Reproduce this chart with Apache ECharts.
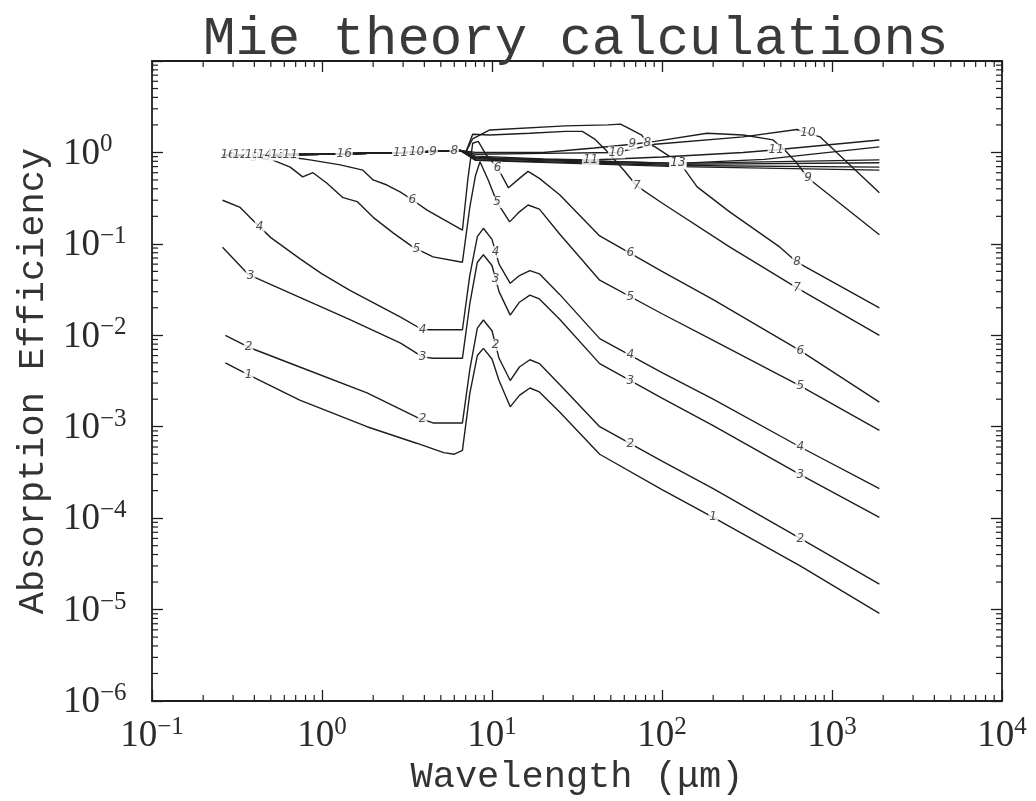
<!DOCTYPE html>
<html><head><meta charset="utf-8">
<script src="https://cdn.jsdelivr.net/npm/echarts@6/dist/echarts.min.js"></script>
<style>html,body{margin:0;padding:0;background:#fff}#c{width:1036px;height:801px}</style>
</head><body><div id="c"></div>
<script>
// [wavelength (um), absorption efficiency]
const curve1 = [[0.27,5.0e-3],[0.37,3.7e-3],[0.74,1.95e-3],[1.84,1.0e-3],[3.6,6.6e-4],[5.2,5.2e-4],[6.0,5.0e-4],[6.7,5.5e-4],[7.4,2.3e-3],[8.2,6.0e-3],[8.9,7.2e-3],[10,5.5e-3],[11,3.2e-3],[12.8,1.65e-3],[14.5,2.2e-3],[16.7,2.65e-3],[19,2.4e-3],[25,1.45e-3],[43,5.0e-4],[100,2.05e-4],[200,1.02e-4],[650,3.0e-5],[1900,9.1e-6]];
const curve2 = [[0.27,1.0e-2],[0.37,7.4e-3],[0.74,4.5e-3],[1.84,2.35e-3],[3.6,1.27e-3],[4.5,1.1e-3],[6.7,1.1e-3],[7.4,4.2e-3],[8.2,1.2e-2],[8.9,1.47e-2],[10,1.12e-2],[11,5.6e-3],[12.8,3.2e-3],[14.5,4.5e-3],[16.7,5.4e-3],[19,4.9e-3],[25,2.9e-3],[43,1.0e-3],[100,4.2e-4],[200,2.1e-4],[650,6.0e-5],[1900,1.9e-5]];
const curve3 = [[0.26,9.2e-2],[0.37,4.6e-2],[0.74,2.6e-2],[1.46,1.48e-2],[2.9,8.2e-3],[3.9,5.8e-3],[4.5,5.6e-3],[6.7,5.6e-3],[7.4,2.2e-2],[8.2,6.3e-2],[8.9,7.6e-2],[10,5.8e-2],[11,3.0e-2],[12.8,1.66e-2],[14.5,2.3e-2],[16.7,2.75e-2],[19,2.5e-2],[25,1.5e-2],[43,4.9e-3],[100,2.05e-3],[200,1.03e-3],[650,3.0e-4],[1900,1.02e-4]];
const curve4 = [[0.26,0.30],[0.33,0.25],[0.40,0.174],[0.50,0.117],[0.74,6.9e-2],[1.0,4.7e-2],[1.46,3.1e-2],[2.9,1.58e-2],[3.9,1.15e-2],[6.7,1.15e-2],[7.4,4.5e-2],[8.2,0.12],[8.9,0.148],[10,0.112],[11,6.0e-2],[12.8,3.7e-2],[14.5,4.5e-2],[16.7,5.1e-2],[19,4.7e-2],[25,2.8e-2],[43,9.2e-3],[100,3.9e-3],[200,2.0e-3],[650,6.0e-4],[1900,2.1e-4]];
const curve5 = [[0.26,0.92],[0.33,0.91],[0.42,0.87],[0.51,0.83],[0.65,0.69],[0.77,0.54],[0.885,0.60],[1.07,0.46],[1.33,0.32],[1.61,0.29],[2.0,0.195],[2.62,0.132],[3.43,9.2e-2],[4.5,7.2e-2],[6.7,6.3e-2],[7.4,0.25],[8.0,0.56],[8.5,0.79],[9.5,0.5],[10.7,0.286],[12.7,0.174],[14.5,0.224],[16.3,0.266],[19,0.24],[25,0.128],[43,4.0e-2],[100,1.72e-2],[200,8.8e-3],[650,2.8e-3],[1900,9.1e-4]];
const curve6 = [[0.26,0.93],[0.5,0.91],[0.71,0.87],[0.85,0.83],[1.28,0.73],[1.74,0.64],[2.0,0.50],[2.41,0.44],[2.88,0.37],[3.43,0.30],[4.15,0.234],[5.5,0.174],[6.7,0.141],[7.2,0.5],[7.7,1.26],[8.3,1.32],[9.2,0.95],[10.8,0.68],[12.5,0.41],[14.5,0.52],[16.3,0.62],[19,0.52],[25,0.345],[43,0.122],[100,5.0e-2],[200,2.45e-2],[650,6.8e-3],[1900,1.86e-3]];
const curve7 = [[0.26,0.93],[1.0,0.955],[3.0,1.0],[6.5,1.05],[7.0,1.0],[7.7,1.58],[9.7,1.55],[16.7,1.62],[27,1.7],[34,1.7],[40,1.41],[47,1.05],[60,0.63],[71,0.43],[100,0.28],[251,9.2e-2],[622,3.3e-2],[1900,1.0e-2]];
const curve8 = [[0.26,0.93],[1.0,0.955],[3.0,1.0],[6.5,1.05],[7.0,1.0],[7.7,1.41],[9.7,1.76],[27,1.95],[48,2.0],[57,2.04],[63,1.86],[76,1.55],[82,1.26],[91,1.15],[128,0.76],[161,0.42],[250,0.224],[494,9.2e-2],[622,6.3e-2],[1900,2.0e-2]];
const curve9 = [[0.26,0.93],[1.0,0.955],[3.0,1.0],[6.5,1.05],[8,1.0],[20,1.0],[40,1.12],[67,1.23],[91,1.32],[184,1.62],[300,1.55],[450,1.37],[530,1.05],[622,0.76],[722,0.525],[1900,0.126]];
const curve10 = [[0.26,0.93],[1.0,0.955],[3.0,1.0],[6.5,1.05],[8,0.955],[20,0.977],[54,1.0],[91,1.23],[300,1.48],[622,1.78],[722,1.62],[850,1.48],[1900,0.363]];
const curve11 = [[0.26,0.93],[1.0,0.955],[3.0,1.0],[6.5,1.05],[8,0.91],[20,0.85],[38,0.826],[100,0.89],[300,1.0],[470,1.07],[1900,1.37]];
const curve12 = [[0.26,0.93],[1.0,0.955],[3.0,1.0],[6.5,1.05],[8,0.88],[124,0.76],[400,0.84],[1900,1.15]];
const curve13 = [[0.26,0.93],[1.0,0.955],[3.0,1.0],[6.5,1.05],[8,0.87],[124,0.76],[1900,0.83]];
const curve14 = [[0.26,0.93],[1.0,0.955],[3.0,1.0],[6.5,1.05],[8,0.85],[124,0.74],[1900,0.77]];
const curve15 = [[0.26,0.93],[1.0,0.955],[3.0,1.0],[6.5,1.05],[8,0.83],[124,0.72],[1900,0.69]];
const curve16 = [[0.26,0.93],[1.0,0.955],[3.0,1.0],[6.5,1.05],[8,0.82],[124,0.70],[1900,0.64]];

const curves = [curve1,curve2,curve3,curve4,curve5,curve6,curve7,curve8,curve9,curve10,curve11,curve12,curve13,curve14,curve15,curve16];
const curveNames = ['1','2','3','4','5','6','7','8','9','10','11','12','13','14','15','16'];
// inline contour-style labels: [curve number, wavelength]
const labelSpots = [[1,0.37],[1,200],
  [2,0.37],[2,3.9],[2,10.5],[2,65],[2,650],
  [3,0.38],[3,3.9],[3,10.5],[3,65],[3,650],
  [4,0.43],[4,3.9],[4,10.5],[4,65],[4,650],
  [5,0.40],[5,3.6],[5,10.7],[5,65],[5,650],
  [6,3.4],[6,10.8],[6,65],[6,650],
  [16,0.28],[12,0.33],[15,0.39],[14,0.46],[13,0.55],[11,0.65],[16,1.35],[11,2.9],[10,3.6],[9,4.5],[8,6.0],
  [7,71],[7,622],[8,82],[8,622],[9,67],[9,722],[10,54],[10,722],
  [11,38],[11,470],[12,124],[13,124]];
const xRange = [0.1, 1e4];
const yRange = [1e-6, 10];
const minorMult = [2,3,4,5,6,7,8,9];
const xDecadeStarts = [-1,0,1,2,3];
const yDecadeStarts = [-6,-5,-4,-3,-2,-1,0];

function labelPoint(c, lam){
  const pts = curves[c-1];
  const ll = Math.log10(lam);
  for (let i=0;i<pts.length-1;i++){
    const a=Math.log10(pts[i][0]), b=Math.log10(pts[i+1][0]);
    if (ll>=a && ll<=b){
      const t=(ll-a)/(b-a);
      const q=Math.log10(pts[i][1])*(1-t)+Math.log10(pts[i+1][1])*t;
      return [lam, Math.pow(10,q), curveNames[c-1]];
    }
  }
  return [lam, pts[pts.length-1][1], curveNames[c-1]];
}

const xMinor=[], yMinor=[];
xDecadeStarts.forEach(d=>minorMult.forEach(m=>xMinor.push([m*Math.pow(10,d), yRange[0]])));
yDecadeStarts.forEach(d=>minorMult.forEach(m=>yMinor.push([xRange[0], m*Math.pow(10,d)])));

const INK='#1e1e1e';
function supLabel(v, hideTop){
  const e=Math.round(Math.log10(v));
  if (hideTop && e===1) return '';
  return '{b|10}{s|'+(e<0?'\u2212'+(-e):e)+'}';
}
const richTick={b:{fontFamily:'Liberation Serif',fontSize:37,color:'#2a2a2a',lineHeight:40,verticalAlign:'bottom'},
                s:{fontFamily:'Liberation Serif',fontSize:25,color:'#2a2a2a',lineHeight:25,verticalAlign:'top'}};

const series=[];
curves.forEach((c,i)=>series.push({type:'line',name:curveNames[i],data:c,showSymbol:false,symbol:'none',
  xAxisIndex:0,yAxisIndex:0,lineStyle:{color:INK,width:1.4},z:2,silent:true}));
series.push({type:'scatter',data:labelSpots.map(s=>labelPoint(s[0],s[1])),symbolSize:1,
  itemStyle:{color:'rgba(0,0,0,0)'},z:5,silent:true,
  label:{show:true,position:'inside',formatter:p=>p.data[2],fontFamily:'DejaVu Sans',fontStyle:'italic',
  fontSize:12,color:'#222',backgroundColor:'#fff',padding:[0,1]}});
const tickStyle={stroke:INK,lineWidth:1.2};
series.push({type:'custom',data:xMinor,z:6,silent:true,clip:false,renderItem:(params,api)=>{
  const v=api.value(0); const b=api.coord([v,yRange[0]]); const t=api.coord([v,yRange[1]]);
  return {type:'group',children:[
    {type:'line',shape:{x1:b[0],y1:b[1],x2:b[0],y2:b[1]-6},style:tickStyle},
    {type:'line',shape:{x1:t[0],y1:t[1],x2:t[0],y2:t[1]+6},style:tickStyle}]};}});
series.push({type:'custom',data:yMinor,z:6,silent:true,clip:false,renderItem:(params,api)=>{
  const v=api.value(1); const l=api.coord([xRange[0],v]); const r=api.coord([xRange[1],v]);
  return {type:'group',children:[
    {type:'line',shape:{x1:l[0],y1:l[1],x2:l[0]+6,y2:l[1]},style:tickStyle},
    {type:'line',shape:{x1:r[0],y1:r[1],x2:r[0]-6,y2:r[1]},style:tickStyle}]};}});

const axisLine={show:true,lineStyle:{color:INK,width:1.8}};
const majorTick={show:true,inside:true,length:11,lineStyle:{color:INK,width:1.3}};
const option={
  animation:false,
  backgroundColor:'#fff',
  title:{text:'Mie theory calculations',left:198,top:8,
    textStyle:{fontFamily:'Liberation Mono',fontSize:54,fontWeight:'normal',color:'#3a3a3a'}},
  grid:{left:152,right:34,top:61,bottom:100,containLabel:false,outerBoundsMode:'none'},
  xAxis:[
    {type:'log',logBase:10,min:xRange[0],max:xRange[1],interval:1,position:'bottom',
     name:'Wavelength (\u03bcm)',nameLocation:'middle',nameGap:58,nameMoveOverlap:false,
     nameTextStyle:{fontFamily:'Liberation Mono',fontSize:37,color:'#333'},
     axisLine:axisLine,axisTick:majorTick,splitLine:{show:false},minorTick:{show:false},
     axisLabel:{margin:14,formatter:v=>supLabel(v,false),rich:richTick}},
    {type:'log',logBase:10,min:xRange[0],max:xRange[1],interval:1,position:'top',
     axisLine:axisLine,axisTick:majorTick,splitLine:{show:false},axisLabel:{show:false}}
  ],
  yAxis:[
    {type:'log',logBase:10,min:yRange[0],max:yRange[1],interval:1,position:'left',
     name:'Absorption Efficiency',nameLocation:'middle',nameGap:100,nameMoveOverlap:false,
     nameTextStyle:{fontFamily:'Liberation Mono',fontSize:37,color:'#333'},
     axisLine:axisLine,axisTick:majorTick,splitLine:{show:false},
     axisLabel:{margin:89,align:'left',formatter:v=>supLabel(v,true),rich:richTick}},
    {type:'log',logBase:10,min:yRange[0],max:yRange[1],interval:1,position:'right',
     axisLine:axisLine,axisTick:majorTick,splitLine:{show:false},axisLabel:{show:false}}
  ],
  series:series
};
const chart=echarts.init(document.getElementById('c'));
chart.setOption(option);
</script></body></html>
